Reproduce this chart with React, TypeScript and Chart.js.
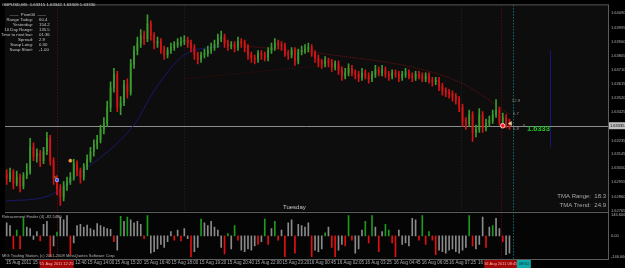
import React, { useEffect, useRef } from 'react';
import { Chart, registerables } from 'chart.js';

Chart.register(...registerables);

// ---------------- DATA ----------------
const firstOpen = 1.6301;
const closes = [
  1.6298, 1.6302, 1.6295, 1.6299, 1.6293, 1.6300, 1.6303, 1.6319, 1.6313, 1.6315,
  1.6310, 1.6316, 1.6325, 1.6310, 1.6298, 1.6291, 1.6286, 1.6293, 1.6296, 1.6299,
  1.6308, 1.6303, 1.6299, 1.6306, 1.6311, 1.6316, 1.6321, 1.6324, 1.6331, 1.6335,
  1.6346, 1.6359, 1.6368, 1.6346, 1.6349, 1.6361, 1.6356, 1.6375, 1.6384, 1.6389,
  1.6394, 1.6392, 1.6402, 1.6394, 1.6389, 1.6390, 1.6385, 1.6381, 1.6384, 1.6386,
  1.6388, 1.6389, 1.6390, 1.6391, 1.6389, 1.6386, 1.6381, 1.6378, 1.6381, 1.6382,
  1.6384, 1.6386, 1.6388, 1.6392, 1.6393, 1.6389, 1.6387, 1.6388, 1.6386, 1.6390,
  1.6389, 1.6386, 1.6381, 1.6379, 1.6378, 1.6382, 1.6381, 1.6379, 1.6384, 1.6386,
  1.6389, 1.6388, 1.6387, 1.6382, 1.6381, 1.6384, 1.6377, 1.6383, 1.6384, 1.6385,
  1.6386, 1.6382, 1.6379, 1.6376, 1.6375, 1.6377, 1.6376, 1.6373, 1.6375, 1.6371,
  1.6367, 1.6369, 1.6372, 1.6369, 1.6368, 1.6366, 1.6369, 1.6367, 1.6365, 1.6368,
  1.6371, 1.6369, 1.6371, 1.6368, 1.6367, 1.6369, 1.6368, 1.6366, 1.6368, 1.6369,
  1.6367, 1.6366, 1.6368, 1.6367, 1.6365, 1.6367, 1.6364, 1.6363, 1.6364, 1.6360,
  1.6357, 1.6356, 1.6355, 1.6353, 1.6351, 1.6346, 1.6336, 1.6335, 1.6341, 1.6329,
  1.6331, 1.6341, 1.6332, 1.6335, 1.6337, 1.6341, 1.6344, 1.6336, 1.6339, 1.6335,
  1.63335,
];
const highs = [
  1.6304, 1.6305, 1.6304, 1.6303, 1.6301, 1.6302, 1.6308, 1.6325, 1.6322, 1.6318,
  1.6317, 1.6319, 1.6329, 1.6327, 1.6312, 1.6300, 1.6294, 1.6296, 1.6299, 1.6302,
  1.6311, 1.6310, 1.6305, 1.6308, 1.6314, 1.6319, 1.6324, 1.6327, 1.6334, 1.6339,
  1.6350, 1.6363, 1.6372, 1.6370, 1.6353, 1.6364, 1.6365, 1.6378, 1.6387, 1.6393,
  1.6398, 1.6397, 1.6408, 1.6404, 1.6396, 1.6393, 1.6392, 1.6387, 1.6386, 1.6389,
  1.6390, 1.6392, 1.6393, 1.6394, 1.6393, 1.6391, 1.6388, 1.6383, 1.6383, 1.6385,
  1.6387, 1.6389, 1.6391, 1.6395, 1.6397, 1.6395, 1.6391, 1.6390, 1.6390, 1.6393,
  1.6392, 1.6391, 1.6388, 1.6383, 1.6381, 1.6384, 1.6384, 1.6383, 1.6386, 1.6389,
  1.6392, 1.6391, 1.6390, 1.6389, 1.6384, 1.6386, 1.6386, 1.6385, 1.6387, 1.6388,
  1.6389, 1.6388, 1.6384, 1.6381, 1.6378, 1.6380, 1.6379, 1.6378, 1.6377, 1.6377,
  1.6373, 1.6372, 1.6375, 1.6374, 1.6371, 1.6370, 1.6372, 1.6371, 1.6369, 1.6370,
  1.6374, 1.6373, 1.6374, 1.6373, 1.6370, 1.6371, 1.6371, 1.6370, 1.6370, 1.6372,
  1.6371, 1.6369, 1.6370, 1.6370, 1.6369, 1.6369, 1.6369, 1.6366, 1.6366, 1.6366,
  1.6362, 1.6359, 1.6358, 1.6357, 1.6355, 1.6353, 1.6348, 1.6339, 1.6344, 1.6343,
  1.6334, 1.6345, 1.6343, 1.6338, 1.6340, 1.6344, 1.6351, 1.6346, 1.6342, 1.6341,
  1.6338,
];
const lows = [
  1.6294, 1.6296, 1.6291, 1.6293, 1.6289, 1.6291, 1.6298, 1.6301, 1.6310, 1.6309,
  1.6306, 1.6308, 1.6314, 1.6307, 1.6294, 1.6287, 1.6280, 1.6283, 1.6290, 1.6294,
  1.6297, 1.6300, 1.6295, 1.6297, 1.6304, 1.6309, 1.6313, 1.6318, 1.6322, 1.6328,
  1.6333, 1.6343, 1.6356, 1.6343, 1.6341, 1.6347, 1.6352, 1.6354, 1.6372, 1.6381,
  1.6386, 1.6388, 1.6390, 1.6391, 1.6385, 1.6386, 1.6382, 1.6378, 1.6379, 1.6382,
  1.6384, 1.6386, 1.6387, 1.6388, 1.6386, 1.6383, 1.6378, 1.6375, 1.6376, 1.6379,
  1.6380, 1.6382, 1.6384, 1.6386, 1.6390, 1.6386, 1.6384, 1.6385, 1.6383, 1.6384,
  1.6386, 1.6383, 1.6378, 1.6376, 1.6375, 1.6376, 1.6378, 1.6377, 1.6377, 1.6382,
  1.6384, 1.6385, 1.6384, 1.6380, 1.6378, 1.6379, 1.6374, 1.6375, 1.6381, 1.6382,
  1.6383, 1.6380, 1.6376, 1.6373, 1.6372, 1.6373, 1.6373, 1.6370, 1.6371, 1.6368,
  1.6364, 1.6365, 1.6367, 1.6367, 1.6365, 1.6363, 1.6364, 1.6365, 1.6362, 1.6363,
  1.6366, 1.6367, 1.6367, 1.6366, 1.6364, 1.6365, 1.6366, 1.6363, 1.6364, 1.6366,
  1.6365, 1.6363, 1.6364, 1.6365, 1.6363, 1.6363, 1.6362, 1.6360, 1.6361, 1.6357,
  1.6354, 1.6353, 1.6352, 1.6350, 1.6348, 1.6343, 1.6333, 1.6331, 1.6333, 1.6323,
  1.6326, 1.6329, 1.6329, 1.6330, 1.6333, 1.6335, 1.6339, 1.6334, 1.6334, 1.6332,
  1.6331,
];

// Retracement Finder histogram
const histValues = [
  90, 70, -90, 40, -90, 125, 60, 50, -25, 30,
  -35, 80, 100, -145, -70, 25, 130, 110, 140, -130,
  -50, 70, 80, 60, 75, 50, 40, 85, 70, 60,
  50, 45, -40, -100, 135, 100, 130, 110, 90, 100,
  80, -20, 140, -120, -110, -90, -60, -80, -40, 30,
  -30, 40, -35, 50, -20, -145, -110, -80, 115, 90,
  70, 100, 60, 40, -80, -125, 15, -90, 70, -30,
  -100, -110, -90, -100, -70, -60, -40, 115, -60, 50,
  100, -30, 40, -145, 90, 110, -120, 80, 70, 60,
  90, -145, -100, -110, -90, 20, 60, -80, -145, -100,
  -60, -70, 140, -30, -120, -90, 40, 100, -50, 140,
  60, -110, 30, 80, 40, -50, -145, 40, -60, -50,
  -70, 120, 110, -30, 140, -60, 30, -30, -130, -100,
  -110, -120, -100, -90, -110, -120, -100, -80, 140, -70,
  -90, -60, 130, -80, 60, 70, 120, 50, -40, -130,
  -120,
];
// n = neutral, g = strong up, r = strong down
const histKinds = (
  'nnrgrgnnnn' + 'rnnrngnnnr' + 'nnnnnnnnnn' + 'nnrngngnnn' + 'nrgnnnnnnn' +
  'rnrnnrnngn' + 'nnnnnrgngr' + 'nnnnnrngrn' + 'grnrnnrnnn' + 'nrnnngnrrn' +
  'nrgrnnngrg' + 'nrnggrrnnn' + 'nnnrgrgrrn' + 'nnnnnnnngr' + 'nnnrngnnrnn'
).split('');

const tmaCenterBars = [0, 12, 22, 38, 44, 53, 64];
const tmaCenterPrices = [1.6283, 1.6286, 1.6302, 1.6334, 1.6357, 1.6381, 1.6387];
const tmaUpperBars = [71, 94, 135, 150];
const tmaUpperPrices = [1.6387, 1.6382, 1.6363, 1.6341];
const tmaLowerBars = [53, 94];
const tmaLowerPrices = [1.6365, 1.6374];

const markerBars = [14.2, 15, 19, 148, 150.3];
const markerPrices = [1.6299, 1.6297, 1.6310, 1.63335, 1.6335];
const markerKinds = ['tick', 'buy', 'dot', 'sell', 'flag'];

const priceTicks = [1.6409, 1.63995, 1.639, 1.63805, 1.6371, 1.63615, 1.6352, 1.63425,
  1.63235, 1.63145, 1.6305, 1.62955, 1.6286, 1.62765];
const histTicks = [146.666, 0, -146.666];
const timeLabels = ['15 Aug 2011', '15 Aug 11:20', '15 Aug 12:40', '15 Aug 14:00', '15 Aug 15:20',
  '15 Aug 16:40', '15 Aug 18:00', '15 Aug 19:20', '15 Aug 20:40', '15 Aug 22:00', '15 Aug 23:20',
  '16 Aug 00:45', '16 Aug 02:05', '16 Aug 03:25', '16 Aug 04:45', '16 Aug 06:05', '16 Aug 07:25',
  '16 Aug 08:45'];
const timeLabelBars = [-0.2, 7.8, 15.8, 24.1, 32.3, 40.9, 49.2, 57.5, 65.8, 74.1, 82.3,
  90.3, 98.6, 106.9, 115.5, 123.8, 132.0, 140.6];

const lastPrice = 1.63335;
const crosshairBars = [14.9, 147.4];
const cursorBar = 151.0;
const separatorBars = [52.8, 135.6];
const blueMarkBar = 162.2;
const blueMarkFrom = 1.6384;
const blueMarkTo = 1.6319;

const infoLabels = ['Range Today:', 'Yesterday:', '10 Day Range:', 'Time to next bar:', 'Spread:', 'Swap Long:', 'Swap Short:'];
const infoValues = ['60.4', '154.2', '135.5', '01:36', '2.9', '0.30', '-1.00'];

// ---------------- STYLE ----------------
const FONT = "'Liberation Sans', Arial, sans-serif";
const UP = '#3c9c30';
const DOWN = '#d41414';

const opens = closes.map((c, i) => (i === 0 ? firstOpen : closes[i - 1]));
const isUp = closes.map((c, i) => c >= opens[i]);

const markerStyle: Record<string, any> = {
  tick: { style: 'dash', r: 2, bg: '#d8a030', bd: '#d8a030', bw: 1, rot: 0 },
  buy: { style: 'rect', r: 2, bg: '#2a4cff', bd: '#aab8ff', bw: 0.8, rot: 0 },
  dot: { style: 'circle', r: 1.6, bg: '#f09a30', bd: '#f0b060', bw: 0.5, rot: 0 },
  sell: { style: 'circle', r: 2.3, bg: '#ff1a1a', bd: '#ffffff', bw: 0.8, rot: 0 },
  flag: { style: 'triangle', r: 2.2, bg: '#e6cfa0', bd: '#e6cfa0', bw: 0.5, rot: -90 },
};

function text(ctx: CanvasRenderingContext2D, s: string, x: number, y: number, size: number, color: string, align: CanvasTextAlign = 'left', bold = false) {
  ctx.font = `${bold ? 'bold ' : ''}${size}px ${FONT}`;
  ctx.fillStyle = color;
  ctx.textAlign = align;
  ctx.textBaseline = 'middle';
  ctx.fillText(s, x, y);
}

const decor = {
  id: 'mt4decor',
  beforeDraw(chart: any) {
    const { ctx, chartArea: a } = chart;
    const py = chart.scales.y;
    const ly = chart.scales.y2;
    ctx.save();
    ctx.fillStyle = '#000000';
    ctx.fillRect(0, 0, chart.width, chart.height);
    ctx.fillStyle = '#0d0d0d';
    ctx.fillRect(a.left, py.top, a.right - a.left, py.bottom - py.top);
    ctx.fillStyle = '#050505';
    ctx.fillRect(a.left, ly.top, a.right - a.left, ly.bottom - ly.top);
    ctx.restore();
  },
  beforeDatasetsDraw(chart: any) {
    const { ctx, chartArea: a } = chart;
    const x = chart.scales.x;
    const py = chart.scales.y;
    const ly = chart.scales.y2;
    ctx.save();
    const vline = (bar: number, top: number, bottom: number, color: string, dash: number[]) => {
      const px = Math.round(x.getPixelForValue(bar)) + 0.5;
      ctx.strokeStyle = color;
      ctx.setLineDash(dash);
      ctx.lineWidth = 1;
      ctx.beginPath();
      ctx.moveTo(px, top);
      ctx.lineTo(px, bottom);
      ctx.stroke();
    };
    separatorBars.forEach((b) => vline(b, py.top, py.bottom, '#262626', [1, 2]));
    crosshairBars.forEach((b) => vline(b, py.top, ly.bottom, '#7a0a0a', [1, 2]));
    vline(cursorBar, py.top, ly.bottom, '#10a0a0', [1, 2]);
    vline(blueMarkBar, py.getPixelForValue(blueMarkFrom), py.getPixelForValue(blueMarkTo), '#161678', []);
    // current price line
    const yy = Math.round(py.getPixelForValue(lastPrice)) + 0.5;
    ctx.setLineDash([]);
    ctx.strokeStyle = '#8c8c8c';
    ctx.beginPath();
    ctx.moveTo(a.left, yy);
    ctx.lineTo(a.right, yy);
    ctx.stroke();
    ctx.restore();
  },
  afterDraw(chart: any) {
    const { ctx, chartArea: a } = chart;
    const x = chart.scales.x;
    const py = chart.scales.y;
    const ly = chart.scales.y2;
    ctx.save();
    // panel borders
    ctx.strokeStyle = '#5c5c5c';
    ctx.lineWidth = 1;
    ctx.beginPath();
    ctx.moveTo(a.left, py.top - 0.5); ctx.lineTo(a.right, py.top - 0.5);
    ctx.moveTo(a.left, Math.round(ly.top) + 0.5); ctx.lineTo(a.right, Math.round(ly.top) + 0.5);
    ctx.moveTo(a.left, Math.round(ly.bottom) + 0.5); ctx.lineTo(a.right, Math.round(ly.bottom) + 0.5);
    ctx.moveTo(Math.round(a.right) + 0.5, py.top - 1); ctx.lineTo(Math.round(a.right) + 0.5, ly.bottom + 1);
    ctx.stroke();

    // header + info panel
    text(ctx, 'GBPUSD,M5  1.63315 1.63342 1.63309 1.63330', 2, 5, 4.3, '#d0d0d0');
    text(ctx, '——  Pivot00  ——', 28, 15, 4.3, '#c8c8c8', 'center');
    infoLabels.forEach((l, i) => {
      const yy = 19.5 + i * 5.1;
      text(ctx, l, 33, yy, 4.3, '#c8c8c8', 'right');
      text(ctx, infoValues[i], 39, yy, 4.3, '#c8c8c8', 'left');
    });

    // in-chart texts
    text(ctx, 'Tuesday', 283, 207, 6, '#c4c4c4');
    text(ctx, 'TMA Range:  18.3', 606, 196, 6, '#a8a8a8', 'right');
    text(ctx, 'TMA Trend:  24.9', 606, 205, 6, '#a8a8a8', 'right');
    const cx = x.getPixelForValue(cursorBar);
    text(ctx, '12.9', cx - 1, 101, 4.3, '#8c8c8c');
    text(ctx, '6.7', cx, 114, 4.3, '#8c8c8c');
    text(ctx, '5.8', cx, 129, 4.3, '#8c8c8c');
    text(ctx, '^', 523, 127, 4.5, '#9a9a9a');
    text(ctx, '1.6333', 527, 129, 7.5, '#22c422', 'left', true);

    // lower panel texts
    text(ctx, 'Retracement Finder (4) -82.5480', 2, ly.top + 5, 4.1, '#b0b0b0');
    text(ctx, 'MIG Trading Station, (c) 2001-2008 MetaQuotes Software Corp.', 2, ly.bottom - 3, 4, '#b0b0b0');

    // right axis current price box
    const yp = py.getPixelForValue(lastPrice);
    ctx.fillStyle = '#bfbfbf';
    ctx.fillRect(a.right + 1, yp - 3.5, chart.width - a.right - 1, 7);
    text(ctx, '1.63335', a.right + 2, yp, 4, '#000000');

    // time axis crosshair boxes
    const boxTop = ly.bottom + 1;
    const box = (bar: number, w: number, color: string, s: string, tc: string) => {
      const c = x.getPixelForValue(bar);
      ctx.fillStyle = color;
      ctx.fillRect(c - w / 2, boxTop, w, 8);
      text(ctx, s, c, boxTop + 4, 4, tc, 'center');
    };
    box(crosshairBars[0], 34, '#a00808', '15 Aug 2011 12:25', '#ffb0b0');
    box(crosshairBars[1], 33, '#a00808', '16 Aug 2011 08:45', '#ffb0b0');
    ctx.fillStyle = '#10a8a8';
    const cb = x.getPixelForValue(cursorBar);
    ctx.fillRect(cb + 4, boxTop, 14, 8);
    text(ctx, '08:50', cb + 11, boxTop + 4, 4, '#003030', 'center');
    ctx.restore();
  },
};

export default function App() {
  const ref = useRef<HTMLCanvasElement>(null);
  useEffect(() => {
    document.body.style.margin = '0';
    document.body.style.background = '#000';
    const barBase = { type: 'bar', grouped: false, borderWidth: 0, barThickness: 1 };
    const chart = new Chart(ref.current as HTMLCanvasElement, {
      type: 'bar',
      data: {
        datasets: [
          {
            type: 'line',
            order: 0,
            yAxisID: 'y',
            showLine: false,
            data: markerBars.map((b, i) => ({ x: b, y: markerPrices[i] })),
            pointStyle: markerKinds.map((k) => markerStyle[k].style),
            pointRadius: markerKinds.map((k) => markerStyle[k].r),
            pointBackgroundColor: markerKinds.map((k) => markerStyle[k].bg),
            pointBorderColor: markerKinds.map((k) => markerStyle[k].bd),
            pointBorderWidth: markerKinds.map((k) => markerStyle[k].bw),
            pointRotation: markerKinds.map((k) => markerStyle[k].rot),
          },
          {
            ...barBase,
            order: 1,
            yAxisID: 'y',
            maxBarThickness: 2,
            minBarLength: 1,
            data: closes.map((c, i) => ({ x: i, y: [opens[i], c] })),
            backgroundColor: isUp.map((u) => (u ? UP : DOWN)),
          },
          {
            ...barBase,
            order: 2,
            yAxisID: 'y',
            maxBarThickness: 1,
            data: closes.map((c, i) => ({ x: i, y: [lows[i], highs[i]] })),
            backgroundColor: isUp.map((u) => (u ? UP : DOWN)),
          },
          {
            ...barBase,
            order: 3,
            yAxisID: 'y2',
            maxBarThickness: 2,
            data: histValues.map((v, i) => ({ x: i, y: v })),
            backgroundColor: histKinds.map((k) => (k === 'g' ? '#1e9a1e' : k === 'r' ? '#e01010' : '#8a8a8a')),
          },
          {
            type: 'line',
            order: 4,
            yAxisID: 'y',
            data: tmaCenterBars.map((b, i) => ({ x: b, y: tmaCenterPrices[i] })),
            borderColor: '#18186e',
            borderWidth: 1,
            pointRadius: 0,
            cubicInterpolationMode: 'monotone',
          },
          {
            type: 'line',
            order: 5,
            yAxisID: 'y',
            data: tmaUpperBars.map((b, i) => ({ x: b, y: tmaUpperPrices[i] })),
            borderColor: '#6e1010',
            borderWidth: 1,
            borderDash: [1, 1],
            pointRadius: 0,
            cubicInterpolationMode: 'monotone',
          },
          {
            type: 'line',
            order: 6,
            yAxisID: 'y',
            data: tmaLowerBars.map((b, i) => ({ x: b, y: tmaLowerPrices[i] })),
            borderColor: '#500c0c',
            borderWidth: 1,
            borderDash: [1, 2],
            pointRadius: 0,
          },
        ] as any,
      },
      options: {
        responsive: false,
        animation: false,
        devicePixelRatio: 1,
        events: [],
        layout: { padding: { top: 2, left: 0, right: 0, bottom: 0 } },
        plugins: { legend: { display: false }, tooltip: { enabled: false } },
        scales: {
          x: {
            type: 'linear',
            position: 'bottom',
            min: -0.5,
            max: 179.4,
            offset: false,
            grid: { display: false, drawTicks: false },
            border: { display: false },
            afterBuildTicks: (s: any) => { s.ticks = timeLabelBars.map((v) => ({ value: v })); },
            afterFit: (s: any) => { s.height = 9; },
            ticks: {
              autoSkip: false,
              maxRotation: 0,
              minRotation: 0,
              align: 'start',
              padding: 1,
              color: '#b0b0b0',
              font: { size: 4.5, family: FONT },
              callback: (_v: any, i: number) => timeLabels[i],
            },
          },
          y: {
            type: 'linear',
            position: 'right',
            stack: 'panes',
            stackWeight: 209,
            min: 1.62758,
            max: 1.64143,
            grid: { display: false, drawTicks: false },
            border: { display: false },
            afterBuildTicks: (s: any) => { s.ticks = priceTicks.map((v) => ({ value: v })); },
            afterFit: (s: any) => { s.width = 17; },
            ticks: {
              autoSkip: false,
              padding: 3,
              color: '#b0b0b0',
              font: { size: 4, family: FONT },
              callback: (v: any) => Number(v).toFixed(5),
            },
          },
          y2: {
            type: 'linear',
            position: 'right',
            stack: 'panes',
            stackWeight: 48,
            min: -160.3,
            max: 167.1,
            grid: { display: false, drawTicks: false },
            border: { display: false },
            afterBuildTicks: (s: any) => { s.ticks = histTicks.map((v) => ({ value: v })); },
            afterFit: (s: any) => { s.width = 17; },
            ticks: {
              autoSkip: false,
              padding: 3,
              color: '#b0b0b0',
              font: { size: 4, family: FONT },
              callback: (v: any) => (Number(v) === 0 ? '0.00' : Number(v).toFixed(3)),
            },
          },
        },
      } as any,
      plugins: [decor],
    } as any);
    return () => chart.destroy();
  }, []);
  return (
    <div style={{ position: 'fixed', left: 0, top: 0, width: 625, height: 268, background: '#000' }}>
      <canvas ref={ref} width={625} height={268} style={{ display: 'block', width: 625, height: 268 }} />
    </div>
  );
}
